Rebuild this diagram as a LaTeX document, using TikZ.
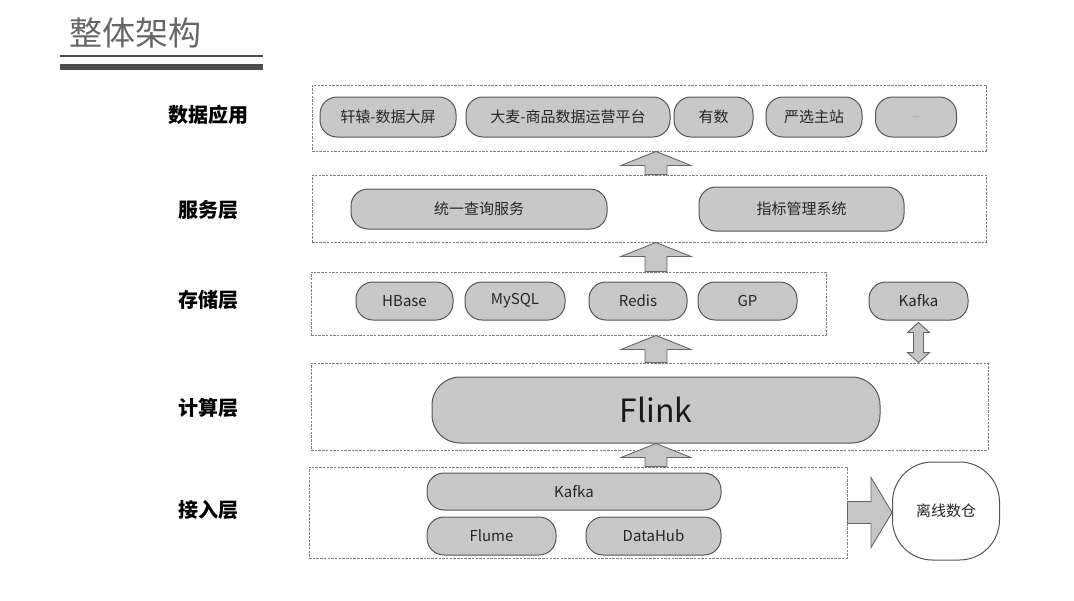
\documentclass[tikz,border=0pt]{standalone}
\usepackage{fontspec}
\setmainfont{Noto Sans CJK SC}
\usetikzlibrary{calc}

\definecolor{boxfill}{HTML}{C8C8C8}
\definecolor{boxline}{HTML}{555555}
\definecolor{arrfill}{HTML}{C6C6C6}
\definecolor{dashline}{HTML}{808080}

\tikzset{
	layerbox/.style={draw=dashline, dash pattern=on 2.5pt off 1.2pt, line width=0.9pt, inner sep=0pt},
	mod/.style={draw=boxline, fill=boxfill, line width=1pt, rounded corners=17pt, inner sep=0pt, text=black!85, font=\fontsize{15}{18}\selectfont},
	lbl/.style={font=\bfseries\fontsize{20}{24}\selectfont},
	blockarr/.style={draw=black!60, fill=arrfill, line width=0.9pt, line join=miter}
}

\newcommand{\blockup}[2]{%
	\draw[blockarr] let \p1=(#1), \p2=(#2) in
		(\x1-11pt,\y1) -- (\x1-11pt,\y2-14pt) -- (\x1-35pt,\y2-14pt) -- (\x1,\y2)
		-- (\x1+35pt,\y2-14pt) -- (\x1+11pt,\y2-14pt) -- (\x1+11pt,\y1) -- cycle;}

\begin{document}
\begin{tikzpicture}[x=1pt,y=-1pt]
		\useasboundingbox (0,0) rectangle (1074,600);

		\node[font=\fontsize{33}{36}\selectfont, text=black!60] (title) at (135,33) {整体架构};
		\draw[black!70, line width=1.6pt] (60,56) -- (263,56);
		\draw[black!70, line width=6.5pt] (60,67) -- (263,67);

		\node[layerbox, minimum width=674, minimum height=66] (app) at (649,118) {};
		\node[layerbox, minimum width=674, minimum height=67] (svc) at (649,208.5) {};
		\node[layerbox, minimum width=515, minimum height=63] (store) at (568.5,303.5) {};
		\node[layerbox, minimum width=677, minimum height=87] (comp) at (649.5,406.5) {};
		\node[layerbox, minimum width=538, minimum height=91] (acc) at (578,512.5) {};

		\node[lbl] (lapp) at (208,115) {数据应用};
		\node[lbl] (lsvc) at (208,210) {服务层};
		\node[lbl] (lstore) at (208,300) {存储层};
		\node[lbl] (lcomp) at (208,408) {计算层};
		\node[lbl] (lacc) at (208,510) {接入层};

		\node[mod, minimum width=136, minimum height=40] (xuanyuan) at (388,117) {轩辕-数据大屏};
		\node[mod, minimum width=204, minimum height=40] (damai) at (568,117) {大麦-商品数据运营平台};
		\node[mod, minimum width=79, minimum height=40] (youshu) at (713.5,117) {有数};
		\node[mod, minimum width=96, minimum height=40] (yanxuan) at (814,117) {严选主站};
		\node[mod, minimum width=81, minimum height=40, text=black!45, font=\fontsize{8}{10}\selectfont] (more) at (916,117) {...};

		\node[mod, minimum width=256, minimum height=40] (query) at (479,209) {统一查询服务};
		\node[mod, minimum width=205, minimum height=44] (metric) at (801.5,209) {指标管理系统};

		\node[mod, minimum width=97, minimum height=38] (hbase) at (404.5,301) {HBase};
		\node[mod, minimum width=100, minimum height=38] (mysql) at (515,301) {MySQL};
		\node[mod, minimum width=98, minimum height=38] (redis) at (638,301) {Redis};
		\node[mod, minimum width=99, minimum height=38] (gp) at (747.5,301) {GP};
		\node[mod, minimum width=99, minimum height=38] (kafkaout) at (918.5,301) {Kafka};

		\node[mod, rounded corners=28pt, minimum width=448, minimum height=66, text=black!90, font=\fontsize{32}{36}\selectfont] (flink) at (656,410) {Flink};

		\node[mod, minimum width=294, minimum height=37] (kafka) at (574,491.5) {Kafka};
		\node[mod, minimum width=129, minimum height=38] (flume) at (491.5,536) {Flume};
		\node[mod, minimum width=135, minimum height=38] (datahub) at (653.5,536) {DataHub};
		\node[mod, rounded corners=40pt, minimum width=107, minimum height=98, fill=white] (offline) at (946,511) {离线数仓};

		\blockup{svc.north -| flink}{app.south -| flink}
		\blockup{store.north -| flink}{svc.south -| flink}
		\blockup{comp.north -| flink}{store.south -| flink}
		\blockup{acc.north -| flink}{flink.south}

		\draw[blockarr] let \p1=(kafkaout.south), \p2=(comp.north -| kafkaout) in
			(\x1,\y1-2pt) -- (\x1+11pt,\y1-12pt) -- (\x1+5pt,\y1-12pt) -- (\x1+5pt,\y2+10pt)
			-- (\x1+11pt,\y2+10pt) -- (\x2,\y2) -- (\x1-11pt,\y2+10pt) -- (\x1-5pt,\y2+10pt)
			-- (\x1-5pt,\y1-12pt) -- (\x1-11pt,\y1-12pt) -- cycle;
		\draw[blockarr] let \p1=(acc.east), \p2=(offline.west) in
			(\x1,\y1-11pt) -- (\x2-21pt,\y1-11pt) -- (\x2-21pt,\y1-35pt) -- (\x2,\y1)
			-- (\x2-21pt,\y1+35pt) -- (\x2-21pt,\y1+11pt) -- (\x1,\y1+11pt) -- cycle;
	\end{tikzpicture}
\end{document}
